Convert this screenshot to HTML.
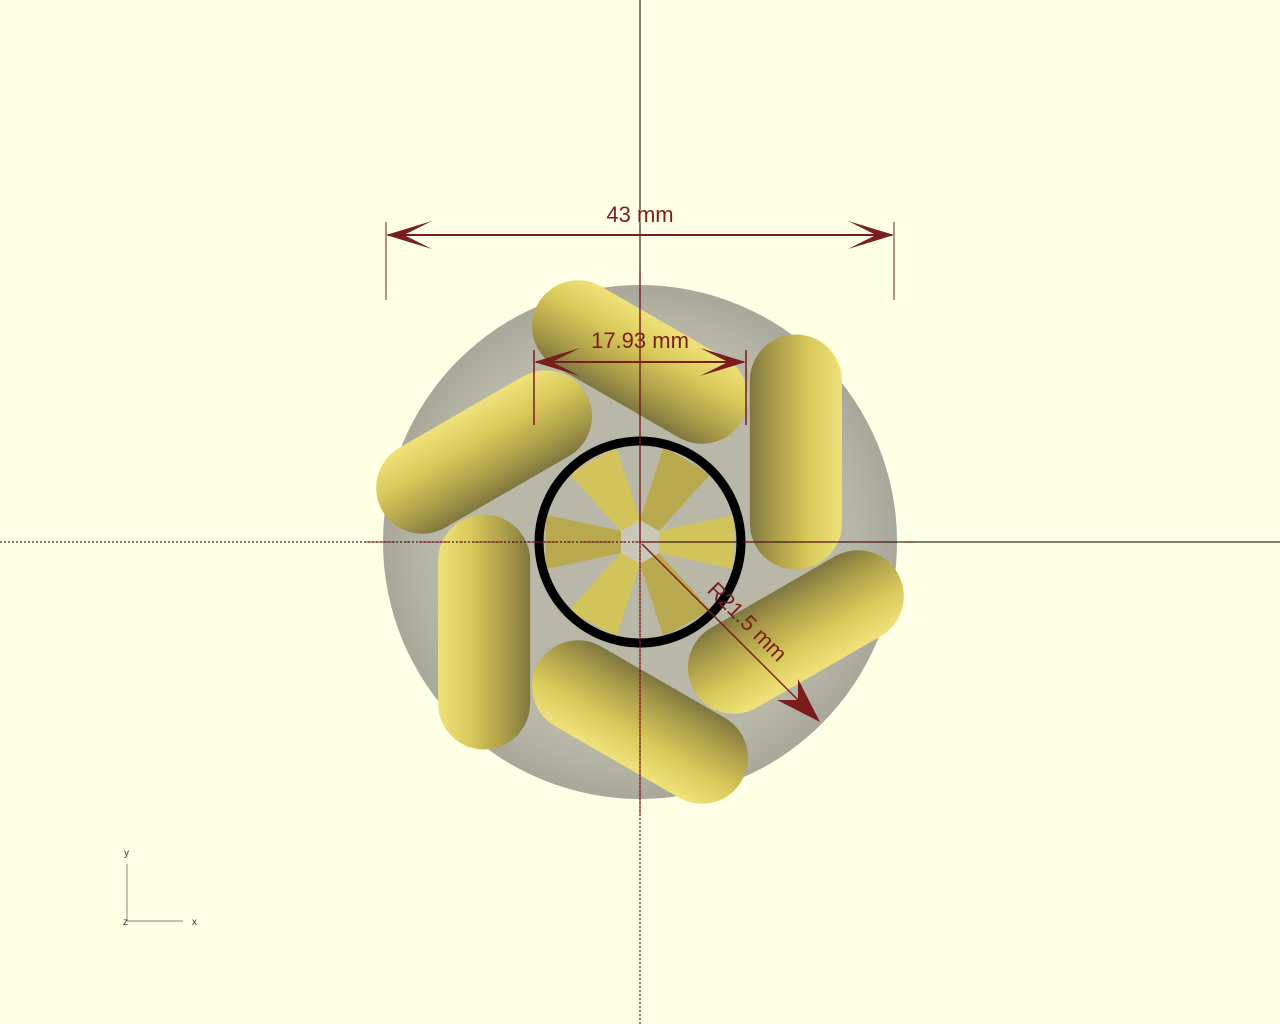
<!DOCTYPE html>
<html><head><meta charset="utf-8"><style>
html,body{margin:0;padding:0;background:#ffffe5;}
svg{display:block;font-family:"Liberation Sans",sans-serif;}
</style></head><body>
<svg id="scene" width="1280" height="1024" viewBox="0 0 1280 1024">
<defs>
<linearGradient id="pillGrad" x1="0" y1="0" x2="0" y2="1">
<stop offset="0" stop-color="#efe27a"/>
<stop offset="0.35" stop-color="#d9c95a"/>
<stop offset="0.75" stop-color="#a89a48"/>
<stop offset="1" stop-color="#7f7640"/>
</linearGradient>
<radialGradient id="discGrad" cx="0.5" cy="0.5" r="0.5">
<stop offset="0.8" stop-color="#b9b8a8"/>
<stop offset="1" stop-color="#a8a79a"/>
</radialGradient>
<marker id="arr" markerWidth="12" markerHeight="10" refX="12" refY="5" orient="auto-start-reverse" markerUnits="userSpaceOnUse">
<path d="M0,0 L12,5 L0,10" fill="none" stroke="#7a1d1d" stroke-width="0"/>
</marker>
</defs>
<rect width="1280" height="1024" fill="#ffffe5"/>
<circle cx="640" cy="542" r="257" fill="url(#discGrad)"/>
<g id="pills"></g>
<g id="spokes"></g>
<polygon points="640,520 659,531 659,553 640,564 621,553 621,531" fill="#c8c7b8"/>
<circle cx="640" cy="542" r="101" fill="none" stroke="#000" stroke-width="9"/>
<!-- axes -->
<line x1="640" y1="0" x2="640" y2="542" stroke="#000" stroke-width="1"/>
<line x1="640" y1="542" x2="640" y2="1024" stroke="#000" stroke-width="1" stroke-dasharray="2,2"/>
<line x1="640" y1="542" x2="1280" y2="542" stroke="#000" stroke-width="1"/>
<line x1="0" y1="542" x2="640" y2="542" stroke="#000" stroke-width="1" stroke-dasharray="2,2"/>
<line x1="640" y1="270" x2="640" y2="815" stroke="#8a2020" stroke-width="1.5" opacity="0.7"/>
<line x1="365" y1="542" x2="915" y2="542" stroke="#8a2020" stroke-width="1.5" opacity="0.6" stroke-dasharray="30,10,4,10"/>
<!-- 43 mm dimension -->
<g stroke="#7a1d1d" fill="#7a1d1d">
<line x1="386" y1="222" x2="386" y2="300" stroke-width="1"/>
<line x1="894" y1="222" x2="894" y2="300" stroke-width="1"/>
<line x1="388" y1="235" x2="892" y2="235" stroke-width="2"/>
<path d="M386,235 L432,221 L404,235 L432,249 Z" stroke="none"/>
<path d="M894,235 L848,221 L876,235 L848,249 Z" stroke="none"/>
<text x="640" y="222" font-size="22" text-anchor="middle" stroke="none">43 mm</text>
</g>
<g stroke="#7a1d1d" fill="#7a1d1d">
<line x1="534" y1="350" x2="534" y2="425" stroke-width="1.5"/>
<line x1="746" y1="350" x2="746" y2="425" stroke-width="1.5"/>
<line x1="536" y1="362" x2="744" y2="362" stroke-width="2"/>
<path d="M534,362 L580,348 L552,362 L580,376 Z" stroke="none"/>
<path d="M746,362 L700,348 L728,362 L700,376 Z" stroke="none"/>
<text x="640" y="348" font-size="22" text-anchor="middle" stroke="none">17.93 mm</text>
</g>
<g stroke="#7a1d1d" fill="#7a1d1d">
<line x1="642" y1="544" x2="818" y2="720" stroke-width="1.5"/>
<path d="M820,722 L777,700 L798,700 L798,679 Z" stroke="none"/>
<text x="0" y="0" font-size="22" text-anchor="middle" stroke="none" transform="translate(742,627) rotate(45)">R21.5 mm</text>
</g>
<!-- gizmo -->
<g font-size="10" fill="#333">
<line x1="127" y1="921" x2="127" y2="864" stroke="#888" stroke-width="1"/>
<line x1="127" y1="921" x2="183" y2="921" stroke="#888" stroke-width="1"/>
<text x="124" y="856">y</text>
<text x="192" y="925">x</text>
<text x="123" y="925">z</text>
</g>
</svg>
<script>
const pillAngles = [30, 90, 150, 210, 270, 330];
const pillPositions = [-90, -30, 30, 90, 150, 210];
const pillOrbit = 180;
const pillLength = 235;
const pillWidth = 92;
const spokeAngles = [0, 60, 120, 180, 240, 300];
const NS = "http://www.w3.org/2000/svg";
const cx = 640, cy = 542;
const pg = document.getElementById('pills');
pillPositions.forEach((p, i) => {
  const a = p * Math.PI / 180;
  const x = cx + pillOrbit * Math.cos(a), y = cy + pillOrbit * Math.sin(a);
  const r = document.createElementNS(NS, 'rect');
  r.setAttribute('x', -pillLength / 2);
  r.setAttribute('y', -pillWidth / 2);
  r.setAttribute('width', pillLength);
  r.setAttribute('height', pillWidth);
  r.setAttribute('rx', pillWidth / 2);
  r.setAttribute('fill', 'url(#pillGrad)');
  r.setAttribute('transform', `translate(${x},${y}) rotate(${pillAngles[i]})`);
  
  
  pg.appendChild(r);
});
const sg = document.getElementById('spokes');
spokeAngles.forEach((s, i) => {
  const a = s * Math.PI / 180, w = 0.28;
  const p1 = [cx + 20 * Math.cos(a - w * 2), cy + 20 * Math.sin(a - w * 2)];
  const p2 = [cx + 98 * Math.cos(a - w), cy + 98 * Math.sin(a - w)];
  const p3 = [cx + 98 * Math.cos(a + w), cy + 98 * Math.sin(a + w)];
  const p4 = [cx + 20 * Math.cos(a + w * 2), cy + 20 * Math.sin(a + w * 2)];
  const poly = document.createElementNS(NS, 'polygon');
  poly.setAttribute('points', [p1, p2, p3, p4].map(p => p.join(',')).join(' '));
  poly.setAttribute('fill', i % 2 ? '#b8a94e' : '#d2c35a');
  
  
  sg.appendChild(poly);
});
</script>
</body></html>
